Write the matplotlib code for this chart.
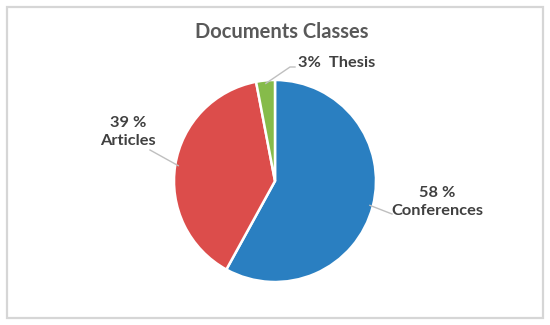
import numpy as np
import matplotlib
matplotlib.use("Agg")
import matplotlib.pyplot as plt
from matplotlib.patches import Rectangle

# data
classes = ["Conferences", "Articles", "Thesis"]
shares = [58, 39, 3]
label_texts = ["58 %\nConferences", "39 %\nArticles", "3%  Thesis"]
colors = ["#2a7fc1", "#dc4d4b", "#86bb4a"]

plt.rcParams["font.family"] = ["Lato", "DejaVu Sans"]

W, H = 550, 325
fig = plt.figure(figsize=(W / 100, H / 100), dpi=100)
ax = fig.add_axes([0, 0, 1, 1])

cx, cy, r = 275, H - 181, 101
wedges, _ = ax.pie(shares, colors=colors, startangle=90, counterclock=False,
                   center=(cx, cy), radius=r,
                   wedgeprops=dict(edgecolor="white", linewidth=1.8))
ax.set_xlim(0, W)
ax.set_ylim(0, H)
ax.set_aspect("equal")
ax.axis("off")

# outer frame
fig.patches.append(Rectangle((7 / W, 7 / H), 536 / W, 311 / H, transform=fig.transFigure,
                             fill=False, edgecolor="#d6d6d6", linewidth=1.6))

ax.text(282, H - 32, "Documents Classes", ha="center", va="center",
        fontsize=14.5, fontweight="bold", color="#595959")

# label placement: (text x, text y, ha, leader elbow, leader end) in pixel coords
label_pos = [
    (437, 202, "center", (392, 214), (392, 214)),
    (128, 132, "center", (150, 150), (150, 150)),
    (298, 63, "left", (290, 67), (295, 67)),
]
for w, txt, (tx, ty, ha, elbow, end) in zip(wedges, label_texts, label_pos):
    ang = np.deg2rad((w.theta1 + w.theta2) / 2)
    ex, ey = cx + r * 0.97 * np.cos(ang), cy + r * 0.97 * np.sin(ang)
    ax.plot([ex, elbow[0], end[0]], [ey, H - elbow[1], H - end[1]],
            color="#bfbfbf", linewidth=1.0)
    ax.text(tx, H - ty, txt, ha=ha, va="center", fontsize=11.8, fontweight="bold",
            color="#404040", linespacing=1.3, multialignment="center")

fig.savefig("out.png", dpi=100, facecolor="white")
